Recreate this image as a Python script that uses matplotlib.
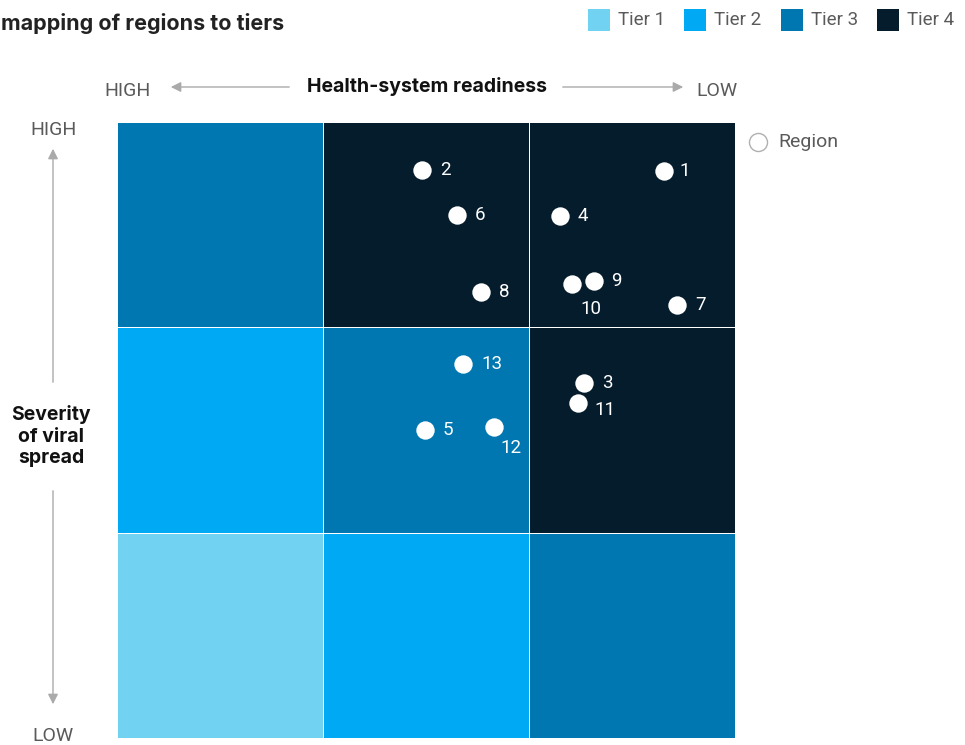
import matplotlib
matplotlib.use('Agg')
import matplotlib.pyplot as plt
import numpy as np
from matplotlib.colors import ListedColormap
from matplotlib.patches import Rectangle, FancyArrowPatch
from matplotlib.lines import Line2D

plt.rcParams['font.family'] = ['Roboto', 'DejaVu Sans']

# tier of each cell, rows from low severity (bottom) to high, columns from high readiness (left) to low
tiers = [[1, 2, 3],
         [2, 3, 4],
         [3, 4, 4]]
tier_names = ['Tier 1', 'Tier 2', 'Tier 3', 'Tier 4']
tier_colors = ['#71d2f1', '#00a9f4', '#0077b0', '#051c2c']

# regions: x = position along readiness (0 high .. 3 low), y = severity (0 low .. 3 high)
region_ids = [1, 2, 3, 4, 5, 6, 7, 8, 9, 10, 11, 12, 13]
region_x = [2.655, 1.481, 2.267, 2.150, 1.495, 1.650, 2.718, 1.767, 2.316, 2.209, 2.238, 1.830, 1.680]
region_y = [2.761, 2.766, 1.729, 2.542, 1.500, 2.547, 2.109, 2.172, 2.226, 2.211, 1.631, 1.514, 1.821]

# label offsets in points (styling)
offsets = {10: (6, -18), 12: (4.5, -15), 11: (11.5, -5), 1: (11, 0), 9: (12, 0)}

fig = plt.figure(figsize=(9.65, 7.45), dpi=100)
ax = fig.add_axes([117/965, 1-738/745, 618/965, 616/745])

cmap = ListedColormap(tier_colors)
ax.pcolormesh(np.arange(4), np.arange(4), np.array(tiers), cmap=cmap, vmin=0.5, vmax=4.5,
              edgecolors='white', linewidth=0.6)
ax.scatter(region_x, region_y, s=175, color='white', zorder=3, linewidths=0)
for rid, x, y in zip(region_ids, region_x, region_y):
    dx, dy = offsets.get(rid, (13, 0))
    ax.annotate(str(rid), (x, y), xytext=(dx, dy), textcoords='offset points',
                ha='left', va='center', color='white', fontsize=13.5)

ax.set_xlim(0, 3)
ax.set_ylim(0, 3)
ax.axis('off')

gray = '#aaaaaa'
tick_c = '#5a5a5a'
bold_font = ['Inter', 'DejaVu Sans']

# title
fig.text(0.001, 1-23/745, 'mapping of regions to tiers', fontsize=15.5, fontweight='bold',
         family=bold_font, color='#222222', ha='left', va='center')

# tier legend
leg_x = [588, 684, 781, 877]
for name, col, lx in zip(tier_names, tier_colors, leg_x):
    fig.add_artist(Rectangle((lx/965, 1-31/745), 22/965, 22/745, transform=fig.transFigure,
                             facecolor=col, edgecolor='none'))
    fig.text((lx+30)/965, 1-20/745, name, fontsize=13.5, color=tick_c,
             ha='left', va='center')

# region legend
fig.add_artist(Line2D([758/965], [1-142/745], marker='o', markersize=13, markerfacecolor='white',
                      markeredgecolor='#b0b0b0', markeredgewidth=1, transform=fig.transFigure))
fig.text(778/965, 1-142/745, 'Region', fontsize=14, color=tick_c,
         ha='left', va='center')

# horizontal axis annotation
fig.text(127/965, 1-91/745, 'HIGH', fontsize=14, color=tick_c, ha='center', va='center')
fig.text(717/965, 1-91/745, 'LOW', fontsize=14, color=tick_c, ha='center', va='center')
fig.text(427/965, 1-87/745, 'Health-system readiness', fontsize=14, fontweight='bold',
         family=bold_font, color='#111111', ha='center', va='center')
fig.add_artist(FancyArrowPatch((292/965, 1-87/745), (168/965, 1-87/745), transform=fig.transFigure,
                               arrowstyle='-|>,head_length=6,head_width=3', color=gray, lw=1))
fig.add_artist(FancyArrowPatch((560/965, 1-87/745), (686/965, 1-87/745), transform=fig.transFigure,
                               arrowstyle='-|>,head_length=6,head_width=3', color=gray, lw=1))

# vertical axis annotation
fig.text(53/965, 1-130/745, 'HIGH', fontsize=14, color=tick_c, ha='center', va='center')
fig.text(53/965, 1-736/745, 'LOW', fontsize=14, color=tick_c, ha='center', va='center')
fig.text(51/965, 1-436/745, 'Severity\nof viral\nspread', fontsize=14, fontweight='bold',
         family=bold_font, color='#111111', ha='center', va='center', linespacing=1.25)
fig.add_artist(FancyArrowPatch((53/965, 1-385/745), (53/965, 1-146/745), transform=fig.transFigure,
                               arrowstyle='-|>,head_length=6,head_width=3', color=gray, lw=1))
fig.add_artist(FancyArrowPatch((53/965, 1-488/745), (53/965, 1-707/745), transform=fig.transFigure,
                               arrowstyle='-|>,head_length=6,head_width=3', color=gray, lw=1))

fig.savefig('out.png', dpi=100)
